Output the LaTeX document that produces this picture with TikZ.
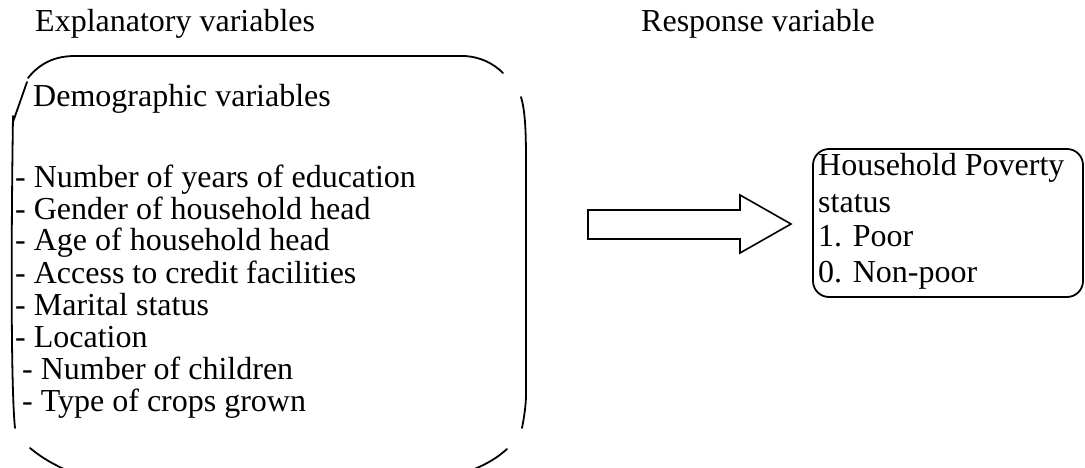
\documentclass[tikz,border=0pt]{standalone}
\usepackage{fontspec}
\setmainfont{Liberation Serif}
\begin{document}
\begin{tikzpicture}[x=1pt,y=-1pt,
  txt/.style={anchor=base west,inner sep=0pt,font=\fontsize{32}{34}\selectfont},
  outline/.style={line width=1.8pt,line cap=round}]
\useasboundingbox (0,0) rectangle (1085,468);
% headings
\node[txt] (hexp) at (35,32) {Explanatory variables};
\node[txt] (hresp) at (641,32) {Response variable};
% left box outline (broken rounded rectangle)
\draw[outline] (28,78) .. controls (40,63) and (55,56) .. (75,56) -- (465,56) .. controls (480,57) and (493,63) .. (503,73);
\draw[outline] (27,82) -- (13,122);
\draw[outline] (13,116) .. controls (11,250) and (11,390) .. (15,428);
\draw[outline] (30,448) .. controls (42,458) and (53,464) .. (66,470);
\draw[outline] (521,97) .. controls (525,110) and (526,130) .. (526,160) -- (526,395) .. controls (526,405) and (524,418) .. (522,428);
\draw[outline] (507,449) .. controls (497,458) and (487,464) .. (472,470);
% left box text
\node[txt] (demo) at (33,107) {Demographic variables};
\node[txt] (l1) at (15,187) {- Number of years of education};
\node[txt] (l2) at (15,219) {- Gender of household head};
\node[txt] (l3) at (15,251) {- Age of household head};
\node[txt] (l4) at (15,283) {- Access to credit facilities};
\node[txt] (l5) at (15,315) {- Marital status};
\node[txt] (l6) at (15,347) {- Location};
\node[txt] (l7) at (22,379) {- Number of children};
\node[txt] (l8) at (22,411) {- Type of crops grown};
% block arrow
\draw[line width=1.6pt,line join=miter] (588,210) -- (740,210) -- (740,195) -- (791,224) -- (740,253) -- (740,239) -- (588,239) -- cycle;
% right box
\draw[line width=1.8pt,rounded corners=16pt] (813,149) rectangle (1083,297);
\node[txt] (r1) at (818,176) {Household Poverty};
\node[txt] (r2) at (818,212) {status};
\node[txt] (r3) at (818,247) {1. Poor};
\node[txt] (r4) at (818,282) {0. Non-poor};
\end{tikzpicture}
\end{document}
